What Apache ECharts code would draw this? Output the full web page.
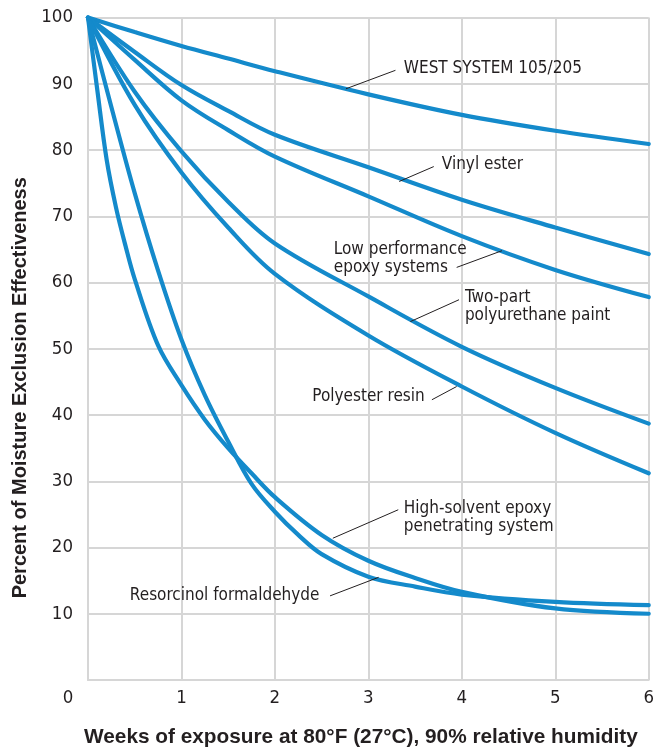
<!DOCTYPE html>
<html>
<head>
<meta charset="utf-8">
<script src="https://cdn.jsdelivr.net/npm/echarts@6/dist/echarts.min.js"></script>
<style>
html,body{margin:0;padding:0;background:#fff;overflow:hidden;width:100%;height:100%;}
#c{width:100vw;height:100vh;}
</style>
</head>
<body>
<div id="c"></div>
<script>
// ---- data (weeks, percent) ----
const weeksTop = [0, 0.5, 1, 1.5, 2, 3, 4, 5, 6];
const westSystem = [100, 97.8, 95.7, 93.8, 91.9, 88.4, 85.3, 82.9, 80.9];
const vinylEster = [100, 94.8, 89.8, 85.9, 82.3, 77.4, 72.5, 68.3, 64.3];
const lowPerformance = [100, 93.6, 87.5, 83.0, 79.0, 73.0, 67.0, 61.9, 57.8];
const polyurethane = [100, 88.8, 79.8, 72.2, 65.9, 57.9, 50.3, 44.1, 38.7];
const polyester = [100, 86.8, 76.6, 68.3, 61.3, 52.0, 44.3, 37.3, 31.2];

const weeksHS = [0, 0.1, 0.2, 0.3, 0.4, 0.5, 0.75, 1, 1.25, 1.5, 1.75, 2, 2.5, 3, 3.5, 4, 5, 6];
const highSolvent = [100, 89, 78.5, 71.3, 65.6, 60.5, 50.5, 44.5, 39.3, 35.0, 31.2, 27.6, 21.9, 18.0, 15.4, 13.3, 10.8, 10.0];

const weeksRF = [0, 0.25, 0.5, 0.75, 1, 1.25, 1.5, 1.75, 2, 2.25, 2.5, 3, 3.5, 4, 5, 6];
const resorcinol = [100, 86.5, 73.5, 61.8, 51.4, 43.0, 36.0, 29.6, 25.4, 21.9, 19.0, 15.6, 14.1, 12.9, 11.8, 11.3];

const xTicks = [0, 1, 2, 3, 4, 5, 6];
const yTicks = [0, 10, 20, 30, 40, 50, 60, 70, 80, 90, 100];

const xTitle = 'Weeks of exposure at 80°F (27°C), 90% relative humidity';
const yTitle = 'Percent of Moisture Exclusion Effectiveness';

// annotation labels: text, text anchor [weeks, percent], leader from/to
const annotations = [
  {text: 'WEST SYSTEM 105/205', at: [3.38, 92.24], from: [2.76, 89.24], to: [3.29, 92.03]},
  {text: 'Vinyl ester', at: [3.786, 77.75], from: [3.33, 75.25], to: [3.70, 77.5]},
  {text: 'Low performance\nepoxy systems', at: [2.63, 64.97], from: [4.43, 64.8], to: [3.945, 62.28]},
  {text: 'Two-part\npolyurethane paint', at: [4.033, 57.68], from: [3.45, 54.1], to: [3.97, 57.4]},
  {text: 'Polyester resin', at: [2.40, 42.8], from: [3.945, 44.3], to: [3.68, 42.3]},
  {text: 'High-solvent epoxy\npenetrating system', at: [3.38, 25.81], from: [2.62, 21.4], to: [3.32, 25.7]},
  {text: 'Resorcinol formaldehyde', at: [0.448, 12.73], from: [3.11, 15.5], to: [2.59, 12.7]}
];

const zip = (xs, ys) => xs.map((x, i) => [x, ys[i]]);

const BLUE = '#148acb';
const GRID = '#d6d6d6';
const TXT = '#231f20';
const NARROW = "'Liberation Sans Narrow', 'DejaVu Sans Condensed', 'Arial Narrow', sans-serif";
const BOLD = "'Liberation Sans', Arial, sans-serif";

function line(name, xs, ys) {
  return {
    name, type: 'line', data: zip(xs, ys), showSymbol: false, symbol: 'none',
    smooth: 0.35,
    lineStyle: {color: BLUE, width: 4.2, cap: 'round'},
    emphasis: {disabled: true}, z: 3
  };
}

const chart = echarts.init(document.getElementById('c'), null, {renderer: 'canvas'});
chart.setOption({
  animation: false,
  grid: {left: 88, right: 3, top: 17.5, bottom: 68, containLabel: false},
  xAxis: {
    type: 'value', min: xTicks[0], max: xTicks[xTicks.length - 1], interval: 1,
    axisLine: {show: true, lineStyle: {color: GRID, width: 2}},
    axisTick: {show: false},
    splitLine: {show: true, lineStyle: {color: GRID, width: 2}},
    axisLabel: {
      margin: 9, fontFamily: NARROW, fontSize: 18.5, color: TXT,
      formatter: v => v === 0 ? '{o|0}' : String(v),
      rich: {o: {fontFamily: NARROW, fontSize: 18.5, color: TXT, padding: [0, 40, 0, 0]}}
    },
    name: xTitle, nameLocation: 'middle', nameGap: 47,
    nameTextStyle: {fontFamily: BOLD, fontWeight: 'bold', fontSize: 20.8, color: TXT, padding: [0, 15, 0, 0]}
  },
  yAxis: {
    type: 'value', min: yTicks[0], max: yTicks[yTicks.length - 1], interval: 10,
    axisLine: {show: true, lineStyle: {color: GRID, width: 2}},
    axisTick: {show: false},
    splitLine: {show: true, lineStyle: {color: GRID, width: 2}},
    axisLabel: {
      margin: 15, fontFamily: NARROW, fontSize: 18.5, color: TXT,
      formatter: v => v === 0 ? '' : String(v)
    },
    name: yTitle, nameLocation: 'middle', nameGap: 57, nameRotate: 90,
    nameTextStyle: {fontFamily: BOLD, fontWeight: 'bold', fontSize: 20, color: TXT, padding: [0, 78, 0, 0]}
  },
  series: [
    line('WEST SYSTEM 105/205', weeksTop, westSystem),
    line('Vinyl ester', weeksTop, vinylEster),
    line('Low performance epoxy systems', weeksTop, lowPerformance),
    line('Two-part polyurethane paint', weeksTop, polyurethane),
    line('Polyester resin', weeksTop, polyester),
    line('High-solvent epoxy penetrating system', weeksHS, highSolvent),
    line('Resorcinol formaldehyde', weeksRF, resorcinol)
  ]
});

// annotations positioned through the chart's own coordinate system
const gfx = [];
annotations.forEach(a => {
  const p = chart.convertToPixel({gridIndex: 0}, a.at);
  const f = chart.convertToPixel({gridIndex: 0}, a.from);
  const t = chart.convertToPixel({gridIndex: 0}, a.to);
  gfx.push({
    type: 'line', silent: true, z: 5,
    shape: {x1: f[0], y1: f[1], x2: t[0], y2: t[1]},
    style: {stroke: '#231f20', lineWidth: 1}
  });
  gfx.push({
    type: 'text', silent: true, z: 5, x: p[0], y: p[1] - 9,
    style: {text: a.text, fontFamily: NARROW, fontSize: 17, lineHeight: 18,
            fill: TXT, align: 'left', verticalAlign: 'top'}
  });
});
chart.setOption({graphic: gfx});
</script>
</body>
</html>
